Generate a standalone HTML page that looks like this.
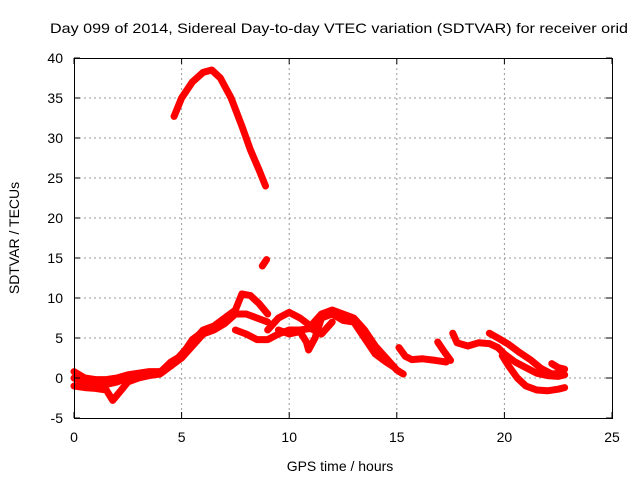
<!DOCTYPE html>
<html><head><meta charset="utf-8"><style>
body{margin:0;background:#fff}
svg{display:block;font-family:"Liberation Sans",Arial,sans-serif;font-size:14px}
</style></head><body>
<svg id="chart" width="640" height="480">
<g id="grid"></g>
<g id="series"></g>
<g id="axes"></g>
<text x="50" y="33" textLength="578" lengthAdjust="spacingAndGlyphs">Day 099 of 2014, Sidereal Day-to-day VTEC variation (SDTVAR) for receiver orid</text>
<text x="340" y="471" text-anchor="middle">GPS time / hours</text>
<text transform="translate(19,238) rotate(-90)" text-anchor="middle">SDTVAR / TECUs</text>
</svg>
<script>
const xTicks=[0,5,10,15,20,25];
const yTicks=[-5,0,5,10,15,20,25,30,35,40];
const s1=[[4.65,32.7],[5.0,35],[5.5,37],[6.0,38.2],[6.4,38.5],[6.8,37.5],[7.3,35],[7.8,31.5],[8.2,28.5],[8.6,26],[8.9,24]];
const s2=[[8.75,14],[8.95,14.8]];
const s3=[[0,0.8],[0.5,0],[1,-0.2],[1.5,-0.2],[2,0],[2.5,0.4],[3,0.6],[3.5,0.8],[4,0.8],[4.5,1.5],[5,3],[5.5,4.5],[6,6],[6.5,6.5],[7,7.5],[7.5,8.5],[7.8,10.5],[8.2,10.3],[8.6,9.3],[9,8]];
const s4=[[0,-1],[0.5,-1.2],[1,-1.3],[1.5,-1.5],[1.8,-2.8],[2.2,-1.5],[2.5,-0.5],[3,0],[3.5,0.3],[4,0.5],[4.5,1.5],[5,2.5],[5.5,4],[6,5.5],[6.5,6],[7,6.8],[7.5,8],[8,8],[8.5,7.5],[9,7]];
const s4b=[[0,0],[0.5,-0.6],[1,-0.7],[1.5,-0.8],[2,-0.5],[2.5,0],[3,0.3],[3.5,0.6],[4,0.7],[4.5,2],[5,2.8],[5.5,4.8],[6,5.8]];
const s5=[[7.5,6],[8,5.5],[8.5,4.8],[9,4.8],[9.5,5.5],[10,6],[10.5,6],[11,6.2],[11.5,5.5],[12,7]];
const s6=[[9,6],[9.5,7.5],[10,8.2],[10.5,7.5],[11,6.5],[11.5,8],[12,8.5],[12.5,8],[13,7.5],[13.5,6],[14,4],[14.5,2.5],[15,1],[15.3,0.5]];
const s7=[[9.5,6],[10,5.5],[10.5,5.8],[10.8,4.5],[10.9,3.5],[11.2,5],[11.5,7.5],[12,8],[12.5,7.2],[13,7],[13.5,5],[14,3],[14.5,2],[14.9,1.3]];
const s8=[[15.1,3.8],[15.4,2.7],[15.7,2.3],[16.2,2.4],[16.8,2.2],[17.3,2.0]];
const s9=[[16.9,4.5],[17.2,3.3],[17.5,2.2]];
const s10=[[17.6,5.6],[17.8,4.4],[18.3,4],[18.8,4.4],[19.3,4.3],[19.7,3.8],[20,3],[20.5,2],[21,1.3],[21.5,0.6],[22,0.3],[22.5,0.2],[22.8,0.4]];
const s11=[[19.9,2.8],[20.2,1.5],[20.6,0],[21.0,-1],[21.5,-1.5],[22,-1.6],[22.5,-1.4],[22.8,-1.2]];
const s12=[[19.3,5.6],[19.7,5],[20.2,4.2],[20.7,3.2],[21.2,2.3],[21.7,1.2],[22.2,0.5],[22.6,0.6]];
const s13=[[22.2,1.8],[22.5,1.3],[22.8,1.1]];
const allSeries=[s1,s2,s3,s4,s4b,s5,s6,s7,s8,s9,s10,s11,s12,s13];

const L=74,R=612,T=58,B=418;
const sx=v=>L+(v-0)/(25-0)*(R-L);
const sy=v=>B-(v+5)/(45)*(B-T);
const NS="http://www.w3.org/2000/svg";
function mk(tag,attrs,parent){const e=document.createElementNS(NS,tag);for(const k in attrs)e.setAttribute(k,attrs[k]);parent.appendChild(e);return e;}
const grid=document.getElementById('grid'),axes=document.getElementById('axes'),ser=document.getElementById('series');
xTicks.forEach(t=>{
  const x=sx(t);
  if(t>0&&t<25){const g=mk('line',{x1:x,x2:x,y1:T,y2:B,stroke:'#999','stroke-dasharray':'2,3'},grid);
  
  }
  mk('line',{x1:x,x2:x,y1:B,y2:B-6,stroke:'#000'},axes);
  mk('line',{x1:x,x2:x,y1:T,y2:T+6,stroke:'#000'},axes);
  const lb=mk('text',{x:x,y:B+24,'text-anchor':'middle'},axes);lb.textContent=t;
  
  
});
yTicks.forEach(t=>{
  const y=sy(t);
  if(t>-5&&t<40){const g=mk('line',{x1:L,x2:R,y1:y,y2:y,stroke:'#999','stroke-dasharray':'2,3'},grid);
  
  }
  mk('line',{x1:L,x2:L+6,y1:y,y2:y,stroke:'#000'},axes);
  mk('line',{x1:R,x2:R-6,y1:y,y2:y,stroke:'#000'},axes);
  const lb=mk('text',{x:L-11,y:y+5,'text-anchor':'end'},axes);lb.textContent=t;
  
  
});
const fr=mk('rect',{x:L+0.5,y:T+0.5,width:R-L,height:B-T,fill:'none',stroke:'#000'},axes);


allSeries.forEach(s=>{
  const p=mk('polyline',{points:s.map(d=>sx(d[0])+','+sy(d[1])).join(' '),fill:'none',stroke:'#ff0000','stroke-width':7,'stroke-linejoin':'round','stroke-linecap':'round'},ser);
  
  
});
</script>
</body></html>
